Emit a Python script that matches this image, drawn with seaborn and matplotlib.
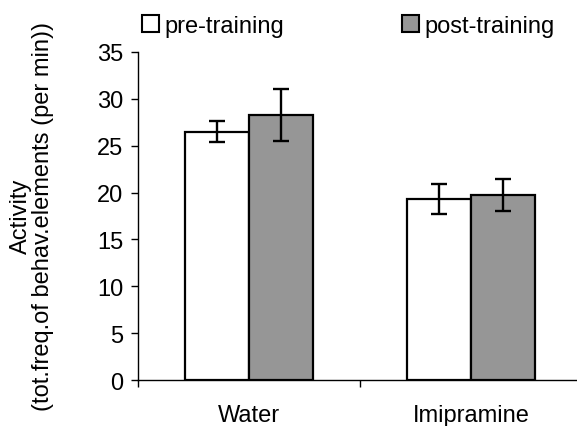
import matplotlib
matplotlib.use("Agg")
import matplotlib.pyplot as plt
import matplotlib.patches as mpatches
import seaborn as sns
import pandas as pd
import numpy as np

categories = ["Water", "Imipramine"]
series = ["pre-training", "post-training"]
pre_values = [26.5, 19.3]
post_values = [28.3, 19.7]
pre_err = [1.1, 1.6]
post_err = [2.8, 1.7]
colors = ["#FFFFFF", "#969696"]

df = pd.DataFrame({
    "group": categories * 2,
    "phase": [series[0]] * 2 + [series[1]] * 2,
    "value": pre_values + post_values,
    "err": pre_err + post_err,
})

sns.set_style("white")
plt.rcParams["font.family"] = ["Liberation Sans", "DejaVu Sans"]
plt.rcParams["text.color"] = "black"
plt.rcParams["axes.labelcolor"] = "black"
plt.rcParams["xtick.color"] = "black"
plt.rcParams["ytick.color"] = "black"
fs = 17

fig = plt.figure(figsize=(5.77, 4.27), dpi=100)
left = 137.7 / 577
right = 582.3 / 577
ax = fig.add_axes([left, 0.1077, right - left, 0.876 - 0.1077])

sns.barplot(data=df, x="group", y="value", hue="phase", order=categories,
            hue_order=series, palette=colors, width=0.576, errorbar=None,
            edgecolor="black", linewidth=1.6, ax=ax, legend=False, saturation=1)

bars = [p for p in ax.patches if isinstance(p, mpatches.Rectangle)]
for bar in bars:
    xc = bar.get_x() + bar.get_width() / 2
    h = bar.get_height()
    idx = df.index[np.isclose(df["value"], h)][0]
    ax.errorbar(xc, h, yerr=df.loc[idx, "err"], fmt="none", ecolor="black",
                elinewidth=1.7, capsize=5.6, capthick=1.7, zorder=5)

ax.set_xlim(-0.5, 1.5)
ax.set_ylim(0, 35)
ax.set_yticks(np.arange(0, 36, 5))
ax.set_xlabel("")
ax.set_ylabel("")
ax.tick_params(axis="y", which="major", direction="out", length=5, width=1,
               left=True, labelsize=fs, pad=5.5)
ax.tick_params(axis="x", which="major", length=0, labelsize=fs, pad=17)
ax.set_xticks([-0.5, 0.5, 1.5], minor=True)
ax.tick_params(axis="x", which="minor", direction="out", length=5, width=1,
               bottom=True)
for s in ["top", "right"]:
    ax.spines[s].set_visible(False)
for s in ["left", "bottom"]:
    ax.spines[s].set_color("black")
    ax.spines[s].set_linewidth(1)

fig.text(32 / 577, 1 - 216.5 / 427, "Activity\n(tot.freq.of behav.elements (per min))",
         rotation=90, ha="center", va="center", multialignment="center",
         fontsize=fs, linespacing=1.0)

handles = [mpatches.Patch(facecolor=c, edgecolor="black", linewidth=1.5, label=l)
           for c, l in zip(colors, series)]
fig.legend(handles=handles, loc="center", bbox_to_anchor=(348 / 577, 1 - 27 / 427), ncol=2,
           frameon=False, fontsize=fs, handlelength=0.75, handleheight=0.75,
           handletextpad=0.2, columnspacing=5.0, borderpad=0)

fig.savefig("out.png", dpi=100)
